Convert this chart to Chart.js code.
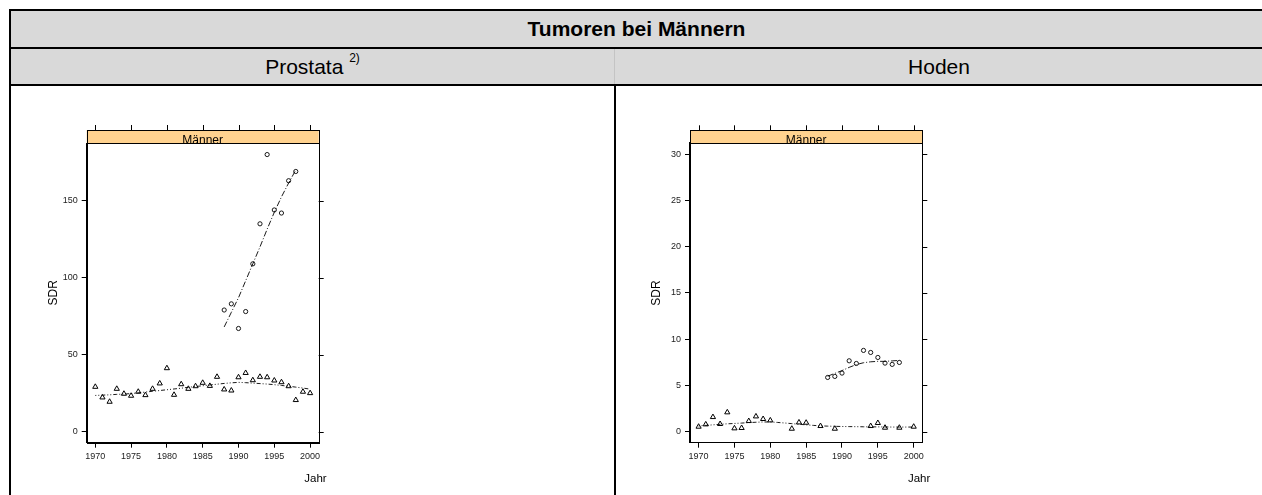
<!DOCTYPE html>
<html>
<head>
<meta charset="utf-8">
<script src="https://cdn.jsdelivr.net/npm/chart.js@4.4.1/dist/chart.umd.min.js"></script>
<style>
  html, body { margin:0; padding:0; background:#fff; width:1262px; height:495px; overflow:hidden;
    font-family:"Liberation Sans", Arial, sans-serif; }
  #wrap { position:relative; width:1262px; height:495px; overflow:hidden; }
  .abs { position:absolute; box-sizing:border-box; }
  .gray { background:#d9d9d9; }
  .hl { background:#000; height:2px; }
  .vl { background:#000; width:2px; }
  .txt { display:flex; align-items:center; justify-content:center; color:#000; white-space:nowrap; }
  canvas { position:absolute; }
</style>
</head>
<body>
<div id="wrap">
<div class="abs gray" style="left:11px;top:11px;width:1251px;height:73px;"></div>
<div class="abs hl" style="left:9px;top:9px;width:1253px;"></div>
<div class="abs hl" style="left:9px;top:47px;width:1253px;"></div>
<div class="abs hl" style="left:9px;top:84px;width:1253px;"></div>
<div class="abs vl" style="left:9px;top:9px;height:486px;"></div>
<div class="abs" style="left:614px;top:49px;width:1px;height:35px;background:#c4c4c4;"></div>
<div class="abs vl" style="left:614px;top:84px;height:411px;"></div>
<div class="abs txt" style="left:11px;top:11px;width:1251px;height:36px;font-weight:bold;font-size:21px;">Tumoren bei Männern</div>
<div class="abs txt" style="left:11px;top:49px;width:603px;height:35px;font-size:21px;">Prostata&nbsp;<span style="font-size:12px;position:relative;top:-9px;">2)</span></div>
<div class="abs txt" style="left:616px;top:49px;width:646px;height:35px;font-size:21px;">Hoden</div>

<canvas id="c1" width="604" height="409" style="left:10px;top:86px;"></canvas>
<canvas id="c2" width="646" height="409" style="left:616px;top:86px;"></canvas>
</div>

<script>
// ---------- data ----------
const xTicks = [1970, 1975, 1980, 1985, 1990, 1995, 2000];
const fitYears = [1970,1971,1972,1973,1974,1975,1976,1977,1978,1979,1980,1981,1982,1983,1984,1985,
                  1986,1987,1988,1989,1990,1991,1992,1993,1994,1995,1996,1997,1998,1999,2000];
const circYears = [1988,1989,1990,1991,1992,1993,1994,1995,1996,1997,1998];

// Prostata
const prostataYTicks = [0, 50, 100, 150];
const prostataTriYears = fitYears;
const prostataTri = [29.1,22.2,19.4,27.8,24.6,23.3,25.9,23.7,27.8,31.3,41.2,23.9,30.8,27.8,29.5,31.7,
                     29.7,35.6,27.4,26.7,35.3,38.1,33.4,35.6,35.3,33.2,32.1,29.5,20.5,25.9,25.0];
const prostataTriFit = [23.5,23.7,23.9,24.2,24.4,24.7,25.2,25.7,26.2,26.7,27.2,27.7,28.2,28.8,29.3,29.8,
                        30.3,30.8,31.3,31.7,32.0,31.8,31.5,31.2,30.9,30.5,30.0,29.5,28.9,28.3,27.6];
const prostataCirc = [79,83,67,78,109,135,180,144,142,163,169];
const prostataCircFit = [68,77.5,87,98,109,120,131.5,142.5,152.5,161.5,170];

// Hoden
const hodenYTicks = [0, 5, 10, 15, 20, 25, 30];
const hodenTriYears = [1970,1971,1972,1973,1974,1975,1976,1977,1978,1979,1980,1983,1984,1985,1987,1989,1994,1995,1996,1998,2000];
const hodenTri = [0.54,0.79,1.58,0.83,2.09,0.36,0.40,1.15,1.65,1.37,1.22,0.32,1.0,0.97,0.61,0.32,0.61,0.94,0.43,0.43,0.54];
const hodenTriFit = [0.62,0.68,0.74,0.80,0.85,0.89,0.93,0.98,1.02,1.05,1.05,1.00,0.94,0.87,0.80,0.74,
                     0.68,0.63,0.60,0.58,0.56,0.55,0.54,0.53,0.52,0.52,0.51,0.50,0.50,0.50,0.50];
const hodenCirc = [5.86,5.97,6.33,7.66,7.37,8.78,8.56,8.02,7.41,7.27,7.48];
const hodenCircFit = [6.0,6.3,6.6,6.95,7.25,7.45,7.55,7.6,7.6,7.65,7.7];

// ---------- helpers ----------
const FONT = '"Liberation Sans", Arial, sans-serif';
const pts = (xs, ys) => xs.map((x, i) => ({ x: x, y: ys[i] }));

const panelPlugin = {
  id: 'panel',
  afterDraw(chart, args, opts) {
    const { ctx, chartArea: { left, top, right, bottom } } = chart;
    const xs = chart.scales.x, ys = chart.scales.y;
    const sh = 13;
    ctx.save();
    // strip
    ctx.fillStyle = '#ffd28f';
    ctx.fillRect(left, top - sh, right - left, sh);
    ctx.strokeStyle = '#000';
    ctx.lineWidth = 1;
    ctx.strokeRect(Math.round(left) + 0.5, Math.round(top - sh) + 0.5, Math.round(right - left), sh);
    // frame
    ctx.strokeRect(Math.round(left) + 0.5, Math.round(top) + 0.5, Math.round(right - left), Math.round(bottom - top));
    // top ticks
    ctx.beginPath();
    xs.ticks.forEach(t => {
      const px = Math.round(xs.getPixelForValue(t.value)) + 0.5;
      ctx.moveTo(px, top - sh); ctx.lineTo(px, top - sh - 5);
    });
    // right ticks
    ys.ticks.forEach(t => {
      const py = Math.round(ys.getPixelForValue(t.value)) + 0.5;
      ctx.moveTo(right, py); ctx.lineTo(right + 5, py);
    });
    ctx.stroke();
    // strip label
    ctx.fillStyle = '#000';
    ctx.font = '12px ' + FONT;
    ctx.textAlign = 'center';
    ctx.textBaseline = 'alphabetic';
    ctx.fillText(opts.strip, (left + right) / 2, top + 0.5);
    // x label
    ctx.font = '11.5px ' + FONT;
    ctx.textAlign = 'right';
    ctx.textBaseline = 'middle';
    ctx.fillText(opts.xlab, right + 8, bottom + 36.5);
    ctx.restore();
  }
};

function makeChart(id, cfg) {
  const triStyle = { pointStyle: 'triangle', pointRadius: 3, borderColor: '#000', backgroundColor: 'rgba(0,0,0,0)',
                     pointBorderWidth: 1, showLine: false };
  const circStyle = { pointStyle: 'circle', pointRadius: 2.1, borderColor: '#000', backgroundColor: 'rgba(0,0,0,0)',
                      pointBorderWidth: 0.9, showLine: false };
  const lineStyle = { pointRadius: 0, showLine: true, borderColor: '#000', borderWidth: 0.9, fill: false, tension: 0 };
  return new Chart(document.getElementById(id), {
    type: 'scatter',
    data: {
      datasets: [
        Object.assign({ label: 'fit1', data: pts(fitYears, cfg.triFit), borderDash: [1, 2, 1, 2, 4, 2] }, lineStyle),
        Object.assign({ label: 'fit2', data: pts(circYears, cfg.circFit), borderDash: [6, 2, 1, 2] }, lineStyle),
        Object.assign({ label: 'tri', data: pts(cfg.triYears, cfg.tri) }, triStyle),
        Object.assign({ label: 'circ', data: pts(circYears, cfg.circ) }, circStyle)
      ]
    },
    options: {
      responsive: false,
      animation: false,
      devicePixelRatio: 1,
      layout: { padding: { left: 0, top: cfg.padTop, right: cfg.padRight, bottom: 0 } },
      plugins: {
        legend: { display: false },
        tooltip: { enabled: false },
        panel: { strip: 'Männer', xlab: 'Jahr' }
      },
      scales: {
        x: {
          type: 'linear', position: 'bottom', min: 1968.8, max: 2001.2,
          afterBuildTicks: s => { s.ticks = xTicks.map(v => ({ value: v })); },
          afterFit: s => { s.height = cfg.xh; },
          ticks: { color: '#222', font: { family: FONT, size: 9 }, padding: 3, maxRotation: 0, autoSkip: false,
                   callback: v => String(v) },
          grid: { drawOnChartArea: false, drawTicks: true, tickLength: 5, tickColor: '#000', color: '#000' },
          border: { display: true, color: '#000', width: 1 }
        },
        y: {
          type: 'linear', position: 'left', min: cfg.ymin, max: cfg.ymax,
          afterBuildTicks: s => { s.ticks = cfg.yTicks.map(v => ({ value: v })); },
          afterFit: s => { s.width = cfg.yw; },
          ticks: { color: '#222', font: { family: FONT, size: 9 }, padding: 4, autoSkip: false,
                   callback: v => String(v) },
          grid: { drawOnChartArea: false, drawTicks: true, tickLength: 5, tickColor: '#000', color: '#000' },
          border: { display: true, color: '#000', width: cfg.leftBorder },
          title: { display: true, text: 'SDR', color: '#000', font: { family: FONT, size: 12 },
                   padding: { top: cfg.titlePad, bottom: 0 } }
        }
      }
    },
    plugins: [panelPlugin]
  });
}

makeChart('c1', {
  triYears: prostataTriYears, tri: prostataTri, triFit: prostataTriFit,
  circ: prostataCirc, circFit: prostataCircFit, yTicks: prostataYTicks,
  ymin: -7.2, ymax: 187.5, padTop: 57, padRight: 295.3, xh: 52.3, yw: 76.7, titlePad: 36.1, leftBorder: 1
});
makeChart('c2', {
  triYears: hodenTriYears, tri: hodenTri, triFit: hodenTriFit,
  circ: hodenCirc, circFit: hodenCircFit, yTicks: hodenYTicks,
  ymin: -1.19, ymax: 31.16, padTop: 57.3, padRight: 339.7, xh: 52.3, yw: 74, titlePad: 33.4, leftBorder: 2
});
</script>
</body>
</html>
